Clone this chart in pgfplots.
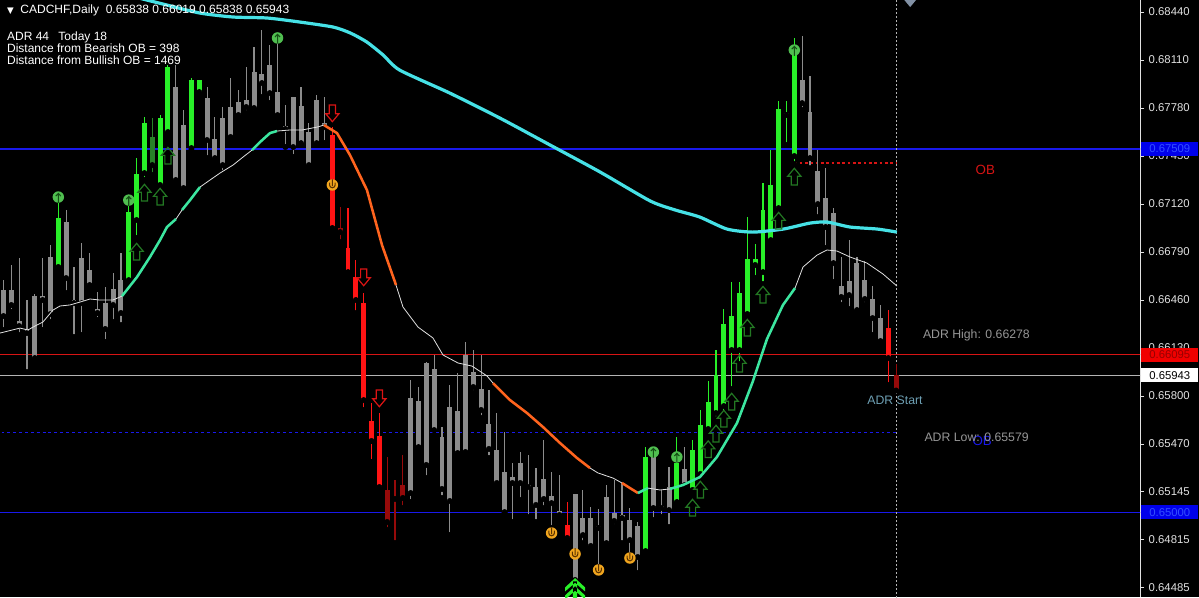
\documentclass[border=0pt]{standalone}
\usepackage{pgfplots}
\pgfplotsset{compat=1.18}
\usepackage{pgfplotstable}
\usepackage{fontspec}
\setmainfont{Liberation Sans}
\newfontfamily\dejavu{DejaVu Sans}

\definecolor{cgreen}{RGB}{40,240,40}
\definecolor{cdgreen}{RGB}{40,130,40}
\definecolor{cgray}{RGB}{140,140,140}
\definecolor{cred}{RGB}{255,20,20}
\definecolor{cdred}{RGB}{150,10,10}
\definecolor{macyan}{RGB}{70,225,230}
\definecolor{magreen}{RGB}{60,230,160}
\definecolor{maorange}{RGB}{255,100,30}
\definecolor{mawhite}{RGB}{225,225,225}
\definecolor{lblue}{RGB}{25,25,235}
\definecolor{lred}{RGB}{215,20,20}
\definecolor{lgray}{RGB}{180,180,180}
\definecolor{arrgreen}{RGB}{35,120,35}
\definecolor{arrred}{RGB}{220,20,20}
\definecolor{mkgreen}{RGB}{80,190,80}
\definecolor{mkdgreen}{RGB}{20,80,20}
\definecolor{mkorange}{RGB}{240,165,30}
\definecolor{mkdorange}{RGB}{90,50,0}
\definecolor{txtgray}{RGB}{150,150,150}
\definecolor{adrstart}{RGB}{110,160,180}
\definecolor{tickc}{RGB}{225,225,225}
\definecolor{boxblue}{RGB}{0,0,235}
\definecolor{boxbluetxt}{RGB}{50,80,255}
\definecolor{boxred}{RGB}{240,0,0}
\definecolor{boxredtxt}{RGB}{150,0,0}
\definecolor{topmark}{RGB}{130,145,165}

% marks for the arrows / circles
\pgfdeclareplotmark{uparr}{%
  \pgfpathmoveto{\pgfpoint{0pt}{6.5pt}}%
  \pgfpathlineto{\pgfpoint{5pt}{0.5pt}}%
  \pgfpathlineto{\pgfpoint{2.3pt}{0.5pt}}%
  \pgfpathlineto{\pgfpoint{2.3pt}{-6pt}}%
  \pgfpathlineto{\pgfpoint{-2.3pt}{-6pt}}%
  \pgfpathlineto{\pgfpoint{-2.3pt}{0.5pt}}%
  \pgfpathlineto{\pgfpoint{-5pt}{0.5pt}}%
  \pgfpathclose\pgfusepathqstroke}
\pgfdeclareplotmark{dnarr}{%
  \pgfpathmoveto{\pgfpoint{0pt}{-6.5pt}}%
  \pgfpathlineto{\pgfpoint{5pt}{-0.5pt}}%
  \pgfpathlineto{\pgfpoint{2.3pt}{-0.5pt}}%
  \pgfpathlineto{\pgfpoint{2.3pt}{6pt}}%
  \pgfpathlineto{\pgfpoint{-2.3pt}{6pt}}%
  \pgfpathlineto{\pgfpoint{-2.3pt}{-0.5pt}}%
  \pgfpathlineto{\pgfpoint{-5pt}{-0.5pt}}%
  \pgfpathclose\pgfusepathqstroke}
\pgfdeclareplotmark{gcirc}{%
  \pgfsetfillcolor{mkgreen}%
  \pgfpathcircle{\pgfpointorigin}{4.3pt}\pgfusepathqfill
  \pgfsetstrokecolor{mkdgreen}\pgfsetlinewidth{0.8pt}%
  \pgfpathmoveto{\pgfpoint{0pt}{-4.3pt}}\pgfpathlineto{\pgfpoint{0pt}{2.6pt}}%
  \pgfpathmoveto{\pgfpoint{-1.9pt}{0.7pt}}\pgfpathlineto{\pgfpoint{0pt}{2.7pt}}%
  \pgfpathlineto{\pgfpoint{1.9pt}{0.7pt}}\pgfusepathqstroke}
\pgfdeclareplotmark{ocirc}{%
  \pgfsetfillcolor{mkorange}%
  \pgfpathcircle{\pgfpointorigin}{4.3pt}\pgfusepathqfill
  \pgfsetstrokecolor{mkdorange}\pgfsetlinewidth{0.8pt}%
  \pgfpathmoveto{\pgfpoint{-2.1pt}{1.8pt}}\pgfpathlineto{\pgfpoint{-2.1pt}{0pt}}%
  \pgfpatharc{180}{360}{2.1pt}\pgfpathlineto{\pgfpoint{2.1pt}{1.8pt}}%
  \pgfpathmoveto{\pgfpoint{0pt}{4.3pt}}\pgfpathlineto{\pgfpoint{0pt}{-0.8pt}}%
  \pgfusepathqstroke}
\pgfdeclareplotmark{dchev}{%
  \pgfpathmoveto{\pgfpoint{0pt}{8.5pt}}\pgfpathlineto{\pgfpoint{7.5pt}{1.5pt}}%
  \pgfpathlineto{\pgfpoint{7.5pt}{-1.5pt}}\pgfpathlineto{\pgfpoint{0pt}{5pt}}%
  \pgfpathlineto{\pgfpoint{-7.5pt}{-1.5pt}}\pgfpathlineto{\pgfpoint{-7.5pt}{1.5pt}}\pgfpathclose
  \pgfpathmoveto{\pgfpoint{0pt}{2.5pt}}\pgfpathlineto{\pgfpoint{7.5pt}{-4.5pt}}%
  \pgfpathlineto{\pgfpoint{7.5pt}{-7.5pt}}\pgfpathlineto{\pgfpoint{0pt}{-1pt}}%
  \pgfpathlineto{\pgfpoint{-7.5pt}{-7.5pt}}\pgfpathlineto{\pgfpoint{-7.5pt}{-4.5pt}}\pgfpathclose
  \pgfpathrectangle{\pgfpoint{-1.6pt}{-10pt}}{\pgfpoint{3.2pt}{16pt}}%
  \pgfusepathqfill}
\pgfdeclareplotmark{tridown}{%
  \pgfpathmoveto{\pgfpoint{-5pt}{3pt}}\pgfpathlineto{\pgfpoint{5pt}{3pt}}%
  \pgfpathlineto{\pgfpoint{0pt}{-3pt}}\pgfpathclose\pgfusepathqfill}

\pgfplotsset{
  candlewick/.style={only marks, mark=none, forget plot,
    error bars/.cd, y dir=plus, y explicit, error mark=none,
    error bar style={draw=#1, line width=0.85pt}},
  candlebody/.style={only marks, mark=none, forget plot,
    error bars/.cd, y dir=plus, y explicit, error mark=none,
    error bar style={draw=#1, line width=3.7pt, line cap=butt}},
}

% x = bar index, prices in CHF
\pgfplotstableread{
x   lo      bot     top     hi
7   0.66666 0.66687 0.67024 0.67147
16  0.66577 0.66597 0.67065 0.67182
17  0.66886 0.67010 0.67326 0.67436
18  0.67285 0.67333 0.67677 0.67718
20  0.67230 0.67251 0.67711 0.67732
21  0.67601 0.67615 0.68062 0.68076
24  0.67491 0.67505 0.67972 0.67986
25  0.67856 0.67890 0.67972 0.67972
82  0.64727 0.64734 0.65381 0.65449
86  0.65064 0.65071 0.65339 0.65518
88  0.65119 0.65154 0.65429 0.65497
89  0.65236 0.65264 0.65601 0.65704
90  0.65539 0.65573 0.65759 0.65903
91  0.65642 0.65683 0.65944 0.66116
92  0.65683 0.65731 0.66295 0.66398
93  0.65848 0.66116 0.66350 0.66584
94  0.66020 0.66116 0.66508 0.66584
95  0.66350 0.66364 0.66742 0.67031
96  0.66611 0.66701 0.66742 0.66845
97  0.66570 0.66652 0.67079 0.67264
98  0.66859 0.66872 0.67251 0.67491
99  0.67079 0.67092 0.67773 0.67828
100 0.67526 0.67732 0.67746 0.67828
101 0.67395 0.67450 0.68179 0.68261
}\tgreen

\pgfplotstableread{
x   lo      bot     top     hi
19  0.67319 0.67388 0.67581 0.67711
}\tdgreen

\pgfplotstableread{
x   lo      bot     top     hi
42  0.66941 0.66955 0.67594 0.67649
44  0.66646 0.66652 0.66817 0.67092
45  0.66371 0.66460 0.66618 0.66735
46  0.65704 0.65772 0.66439 0.66508
47  0.65346 0.65491 0.65628 0.65752
48  0.65161 0.65174 0.65525 0.65683
72  0.64824 0.64824 0.64913 0.65071
113 0.65876 0.66061 0.66267 0.66391
}\tred

\pgfplotstableread{
x   lo      bot     top     hi
43  0.66859 0.66927 0.66955 0.67099
49  0.64879 0.64934 0.65154 0.65381
50  0.64789 0.65092 0.65106 0.65222
51  0.65030 0.65099 0.65188 0.65394
114 0.65838 0.65838 0.65943 0.66019
}\tdred

\pgfplotstableread{
x   lo      bot     top     hi
0   0.66254 0.66350 0.66529 0.66597
1   0.66377 0.66426 0.66529 0.66701
2   0.66219 0.66281 0.66316 0.66749
3   0.65965 0.66233 0.66261 0.66460
4   0.66034 0.66061 0.66487 0.66501
5   0.66254 0.66460 0.66487 0.66749
6   0.66309 0.66364 0.66756 0.66838
8   0.66508 0.66611 0.66996 0.67079
9   0.66206 0.66439 0.66460 0.66687
10  0.66219 0.66439 0.66749 0.66852
11  0.66529 0.66563 0.66666 0.66783
12  0.66322 0.66371 0.66398 0.66515
13  0.66171 0.66261 0.66439 0.66549
14  0.66309 0.66426 0.66536 0.66646
15  0.66288 0.66371 0.66597 0.66783
22  0.67251 0.67285 0.67924 0.68076
23  0.67216 0.67230 0.67663 0.67766
26  0.67436 0.67560 0.67849 0.67924
27  0.67422 0.67436 0.67567 0.67718
28  0.67333 0.67388 0.67711 0.67787
29  0.67560 0.67581 0.67787 0.67986
30  0.67718 0.67732 0.67821 0.67904
31  0.67746 0.67787 0.67835 0.68062
32  0.67746 0.67780 0.68027 0.68199
33  0.67856 0.67952 0.68014 0.68316
34  0.67814 0.67883 0.68076 0.68213
35  0.67718 0.67732 0.67890 0.68247
36  0.67512 0.67636 0.67656 0.67801
37  0.67443 0.67512 0.67856 0.67856
38  0.67526 0.67539 0.67794 0.67924
39  0.67388 0.67388 0.67615 0.67677
40  0.67526 0.67539 0.67835 0.67869
41  0.67539 0.67649 0.67677 0.67856
52  0.65071 0.65133 0.65786 0.65910
53  0.65415 0.65449 0.65766 0.65862
54  0.65236 0.65326 0.66027 0.66034
55  0.65532 0.65566 0.65986 0.66082
56  0.65099 0.65161 0.65518 0.65587
57  0.64844 0.65078 0.65724 0.65876
58  0.65381 0.65408 0.65697 0.65958
59  0.65394 0.65415 0.66082 0.66171
60  0.65821 0.65862 0.65965 0.66116
61  0.65649 0.65704 0.65848 0.66082
62  0.65374 0.65436 0.65607 0.65841
63  0.65188 0.65202 0.65429 0.65683
64  0.64996 0.65002 0.65277 0.65552
65  0.64934 0.65202 0.65243 0.65339
66  0.65085 0.65202 0.65339 0.65415
67  0.64968 0.65174 0.65188 0.65394
68  0.64934 0.65051 0.65174 0.65305
69  0.65030 0.65092 0.65229 0.65497
70  0.64892 0.65064 0.65112 0.65277
71  0.64947 0.64982 0.65009 0.65257
73  0.64521 0.64535 0.65126 0.65126
74  0.64789 0.64844 0.64961 0.65154
75  0.64762 0.64769 0.64961 0.65037
76  0.64604 0.64892 0.64906 0.65023
77  0.64776 0.64789 0.65106 0.65188
78  0.64899 0.64941 0.64996 0.65222
79  0.64789 0.64961 0.64982 0.65202
80  0.64693 0.64810 0.64947 0.65030
81  0.64583 0.64693 0.64906 0.64934
83  0.64947 0.65030 0.65381 0.65449
84  0.64968 0.65030 0.65044 0.65154
85  0.64899 0.65016 0.65174 0.65312
87  0.65154 0.65188 0.65298 0.65449
102 0.67766 0.67814 0.67972 0.68275
103 0.67367 0.67436 0.67752 0.68000
104 0.67031 0.67120 0.67347 0.67491
105 0.66817 0.66962 0.67161 0.67367
106 0.66584 0.66714 0.67058 0.67092
107 0.66426 0.66481 0.66556 0.66756
108 0.66398 0.66494 0.66591 0.66872
109 0.66377 0.66391 0.66714 0.66756
110 0.66426 0.66467 0.66597 0.66728
111 0.66219 0.66336 0.66467 0.66556
112 0.66164 0.66178 0.66336 0.66426
}\tgray

\begin{document}
\begin{tikzpicture}
\useasboundingbox (0,0) rectangle (899.25pt,447.75pt);
\fill[black] (0,0) rectangle (899.25pt,447.75pt);
\begin{axis}[
    at={(0,0)}, anchor=south west,
    width=855pt, height=447.75pt, scale only axis,
    xmin=-0.447, xmax=145.15,
    ymin=0.64418, ymax=0.68523,
    axis x line=none,
    axis y line*=right,
    y axis line style={draw=tickc, line width=0.75pt},
    ytick={0.64485,0.64815,0.65145,0.65470,0.65800,0.66130,0.66460,0.66790,0.67120,0.67450,0.67780,0.68110,0.68440},
    yticklabels={0.64485,0.64815,0.65145,0.65470,0.65800,0.66130,0.66460,0.66790,0.67120,0.67450,0.67780,0.68110,0.68440},
    yticklabel style={font=\fontsize{8.5}{9}\selectfont, text=tickc},
    ytick style={draw=tickc, line width=0.6pt},
    tick align=outside, major tick length=3pt,
    clip mode=individual,
  ]

  % price levels
  \addplot[draw=lblue, line width=1.1pt] coordinates {(-1,0.67500) (146,0.67500)};
  \addplot[draw=lblue, line width=1.1pt] coordinates {(-1,0.65000) (146,0.65000)};
  \addplot[draw=lred, line width=1.1pt] coordinates {(-1,0.66085) (146,0.66085)};
  \addplot[draw=lgray, line width=0.7pt] coordinates {(-1,0.65943) (146,0.65943)};
  \addplot[draw=lblue, line width=0.8pt, dash pattern=on 2.2pt off 2.2pt] coordinates {(-1,0.65550) (114,0.65550)};
  \addplot[draw=lred, line width=0.8pt, dash pattern=on 2pt off 2pt] coordinates {(101,0.67402) (114.1,0.67402)};
  \addplot[draw=lgray, line width=0.75pt, dash pattern=on 1.5pt off 1.5pt] coordinates {(114.1,0.6430) (114.1,0.6870)};

  % candles
  \addplot[candlewick=cgray] table[x=x,y=lo,y error expr=\thisrow{hi}-\thisrow{lo}]{\tgray};
  \addplot[candlebody=cgray] table[x=x,y=bot,y error expr=\thisrow{top}-\thisrow{bot}]{\tgray};
  \addplot[candlewick=cgreen] table[x=x,y=lo,y error expr=\thisrow{hi}-\thisrow{lo}]{\tgreen};
  \addplot[candlebody=cgreen] table[x=x,y=bot,y error expr=\thisrow{top}-\thisrow{bot}]{\tgreen};
  \addplot[candlewick=cdgreen] table[x=x,y=lo,y error expr=\thisrow{hi}-\thisrow{lo}]{\tdgreen};
  \addplot[candlebody=cdgreen] table[x=x,y=bot,y error expr=\thisrow{top}-\thisrow{bot}]{\tdgreen};
  \addplot[candlewick=cred] table[x=x,y=lo,y error expr=\thisrow{hi}-\thisrow{lo}]{\tred};
  \addplot[candlebody=cred] table[x=x,y=bot,y error expr=\thisrow{top}-\thisrow{bot}]{\tred};
  \addplot[candlewick=cdred] table[x=x,y=lo,y error expr=\thisrow{hi}-\thisrow{lo}]{\tdred};
  \addplot[candlebody=cdred] table[x=x,y=bot,y error expr=\thisrow{top}-\thisrow{bot}]{\tdred};

  % slow MA
  \addplot[macyan, line width=2.4pt, smooth, tension=0.4] coordinates {
    (16.8,0.68543) (20.9,0.68488) (25.1,0.68433) (29.3,0.68406) (33.7,0.68399)
    (37.9,0.68371) (42.1,0.68337) (44.3,0.68296) (46.4,0.68234) (48.5,0.68144)
    (50.6,0.68041) (57.0,0.67883) (63.4,0.67711) (69.8,0.67526) (76.2,0.67340)
    (82.6,0.67141) (85.8,0.67079) (88.9,0.67031) (92.4,0.66948) (95.7,0.66927)
    (99.6,0.66948) (103.0,0.66989) (105.2,0.66996) (108.1,0.66962) (111.6,0.66948)
    (114.1,0.66927)};

  % trend MA, coloured by state
  \addplot[mawhite, line width=0.6pt] coordinates {(-0.45,0.66233) (2.11,0.66267) (3.13,0.66254) (3.77,0.66274) (5.04,0.66309) (6.32,0.66391) (7.22,0.66419) (8.49,0.66426) (9.77,0.66446) (11.05,0.66467) (12.32,0.66460) (13.98,0.66460) (15.13,0.66487)};
  \addplot[magreen, line width=1.9pt] coordinates {(15.13,0.66487) (17.05,0.66618) (18.71,0.66756) (19.99,0.66872) (20.88,0.66962) (22.03,0.67017)};
  \addplot[mawhite, line width=0.6pt] coordinates {(22.03,0.67017) (22.80,0.67079)};
  \addplot[magreen, line width=1.9pt] coordinates {(22.80,0.67079) (23.82,0.67147) (25.10,0.67237)};
  \addplot[mawhite, line width=0.6pt] coordinates {(25.10,0.67237) (26.37,0.67285) (27.65,0.67333) (29.31,0.67388) (30.59,0.67443) (31.74,0.67491)};
  \addplot[magreen, line width=1.9pt] coordinates {(31.74,0.67491) (32.76,0.67546) (34.04,0.67608) (34.93,0.67622)};
  \addplot[mawhite, line width=0.6pt] coordinates {(34.93,0.67622) (36.59,0.67629) (38.12,0.67629) (40.04,0.67649) (40.93,0.67663)};
  \addplot[maorange, line width=1.9pt] coordinates {(40.93,0.67663) (42.59,0.67608) (44.25,0.67457) (46.42,0.67216) (48.34,0.66838) (50.13,0.66563)};
  \addplot[mawhite, line width=0.6pt] coordinates {(50.13,0.66563) (51.02,0.66412) (52.94,0.66274) (54.85,0.66199) (56.13,0.66082) (58.05,0.66027) (59.83,0.66006) (61.75,0.65938) (62.52,0.65889)};
  \addplot[maorange, line width=1.9pt] coordinates {(62.52,0.65889) (64.69,0.65772) (66.86,0.65683) (68.90,0.65587) (71.07,0.65477) (73.24,0.65374) (74.90,0.65305)};
  \addplot[mawhite, line width=0.6pt] coordinates {(74.90,0.65305) (75.92,0.65271) (77.84,0.65236) (78.99,0.65202)};
  \addplot[maorange, line width=1.9pt] coordinates {(78.99,0.65202) (80.01,0.65167) (81.03,0.65133)};
  \addplot[magreen, line width=1.9pt] coordinates {(81.03,0.65133) (82.31,0.65167)};
  \addplot[mawhite, line width=0.6pt] coordinates {(82.31,0.65167) (83.84,0.65154) (85.12,0.65161)};
  \addplot[magreen, line width=1.9pt] coordinates {(85.12,0.65161) (86.78,0.65188) (88.95,0.65243) (91.12,0.65381) (93.68,0.65614) (95.72,0.65903) (97.51,0.66192) (99.55,0.66426) (101.09,0.66542)};
  \addplot[mawhite, line width=0.6pt] coordinates {(101.09,0.66542) (102.11,0.66687) (103.90,0.66769) (105.17,0.66804) (106.45,0.66797) (108.11,0.66756) (110.28,0.66714) (112.32,0.66639) (114.11,0.66556)};

  % signals
  \addplot[only marks, mark=uparr, mark options={draw=arrgreen, line width=0.9pt}] coordinates {
    (17,0.66790) (18,0.67196) (20,0.67168) (21,0.67450) (88,0.65030) (89,0.65154)
    (90,0.65432) (91,0.65539) (92,0.65642) (93,0.65759) (94,0.66020) (95,0.66267)
    (97,0.66494) (99,0.67003) (101,0.67306)};
  \addplot[only marks, mark=dnarr, mark options={draw=arrred, line width=0.9pt}] coordinates {
    (42,0.67746) (46,0.66618) (48,0.65786)};
  \addplot[only marks, mark=gcirc] coordinates {
    (7,0.67168) (16,0.67147) (35,0.68262) (83,0.65415) (86,0.65381) (101,0.68179)};
  \addplot[only marks, mark=ocirc] coordinates {
    (42,0.67251) (70,0.64858) (73,0.64714) (76,0.64604) (80,0.64686)};
  \addplot[only marks, mark=dchev, mark options={fill=cgreen, draw=none}] coordinates {(73,0.64470)};
  \addplot[only marks, mark=tridown, mark options={fill=topmark, draw=none}] coordinates {(115.8,0.68502)};

  % labels
  \node[anchor=west, text=white, font=\fontsize{9}{9}\selectfont, inner sep=0pt]
    at (rel axis cs:0.006,0.982) {{\dejavu\fontsize{6.5}{7}\selectfont ▼}\hspace{5pt}CADCHF,Daily\hspace{5pt}0.65838 0.66019 0.65838 0.65943};
  \node[anchor=north west, text=white, font=\fontsize{9}{9}\selectfont, inner sep=0pt, align=left]
    at (rel axis cs:0.006,0.947) {ADR 44\hspace{7pt}Today 18\\Distance from Bearish OB = 398\\Distance from Bullish OB = 1469};
  \node[text=lred, font=\fontsize{10}{11}\selectfont] at (axis cs:125.4,0.67354) {OB};
  \node[anchor=west, text=txtgray, font=\fontsize{9.2}{10}\selectfont, inner sep=0pt] at (axis cs:117.4,0.66220) {ADR High: 0.66278};
  \node[anchor=west, text=adrstart, font=\fontsize{9.2}{10}\selectfont, inner sep=0pt] at (axis cs:110.3,0.65772) {ADR Start};
  \node[text=lblue, font=\fontsize{10}{11}\selectfont] at (axis cs:125.0,0.65491) {OB};
  \node[anchor=west, text=txtgray, font=\fontsize{9.2}{10}\selectfont, inner sep=0pt] at (axis cs:117.6,0.65518) {ADR Low: 0.65579};

  \coordinate (pb1) at (axis cs:145.15,0.67500);
  \coordinate (pb2) at (axis cs:145.15,0.66085);
  \coordinate (pb3) at (axis cs:145.15,0.65943);
  \coordinate (pb4) at (axis cs:145.15,0.65000);
\end{axis}
\tikzset{pbox/.style={anchor=west, xshift=0.75pt, minimum width=42.75pt, minimum height=10.5pt, inner sep=0pt, font=\fontsize{8.5}{9}\selectfont}}
\node[pbox, fill=boxblue, text=boxbluetxt] at (pb1) {0.67509};
\node[pbox, fill=boxred, text=boxredtxt] at (pb2) {0.66095};
\node[pbox, fill=white, text=black] at (pb3) {0.65943};
\node[pbox, fill=boxblue, text=boxbluetxt] at (pb4) {0.65000};
\end{tikzpicture}
\end{document}
